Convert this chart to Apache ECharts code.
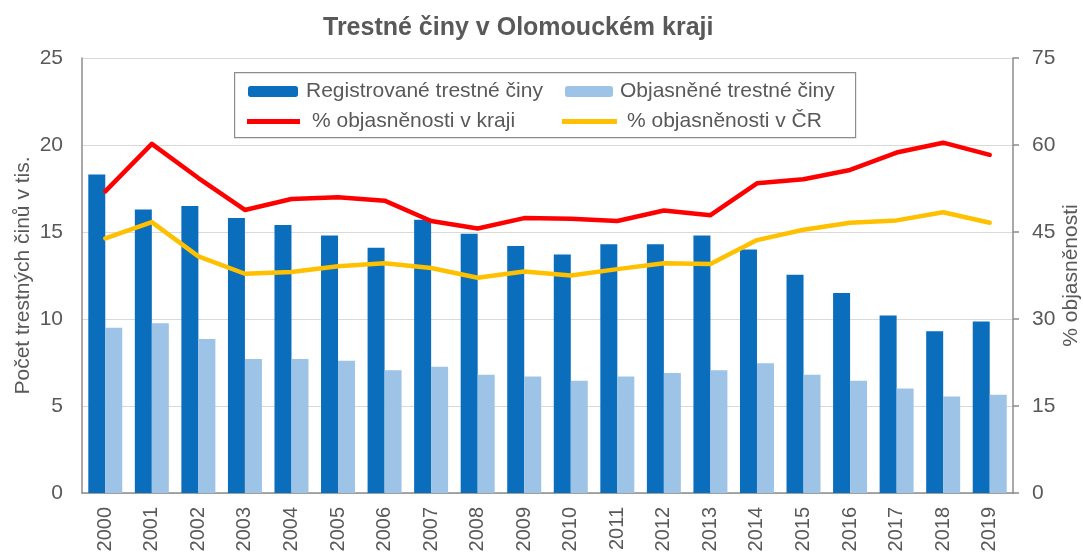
<!DOCTYPE html>
<html>
<head>
<meta charset="utf-8">
<script src="https://cdn.jsdelivr.net/npm/echarts@6/dist/echarts.min.js"></script>
<style>
  html, body { margin: 0; padding: 0; background: #fff; }
  #chart { width: 1083px; height: 554px; }
</style>
</head>
<body>
<div id="chart"></div>
<script>
const years = ['2000', '2001', '2002', '2003', '2004', '2005', '2006', '2007', '2008', '2009',
  '2010', '2011', '2012', '2013', '2014', '2015', '2016', '2017', '2018', '2019'];
// tisíce trestných činů
const registered = [18.3, 16.3, 16.5, 15.8, 15.4, 14.8, 14.1, 15.7, 14.9, 14.2,
  13.7, 14.3, 14.3, 14.8, 14.0, 12.55, 11.5, 10.2, 9.3, 9.85];
const solved = [9.5, 9.75, 8.85, 7.7, 7.7, 7.6, 7.05, 7.25, 6.8, 6.7,
  6.45, 6.7, 6.9, 7.05, 7.45, 6.8, 6.45, 6.0, 5.55, 5.65];
// % objasněnosti
const rateRegion = [52.0, 60.2, 54.3, 48.8, 50.7, 51.0, 50.4, 46.9, 45.6, 47.4,
  47.3, 46.9, 48.7, 47.9, 53.4, 54.1, 55.7, 58.7, 60.4, 58.3];
const rateCR = [43.9, 46.7, 40.8, 37.8, 38.1, 39.1, 39.6, 38.8, 37.1, 38.2,
  37.5, 38.6, 39.6, 39.5, 43.6, 45.4, 46.6, 47.0, 48.4, 46.6];

const leftTicks = { min: 0, max: 25, interval: 5 };
const rightTicks = { min: 0, max: 75, interval: 15 };

const FONT = 'Liberation Sans, Arial, sans-serif';
const TXT = '#595959';
const AXIS = '#8c8c8c';

function legendText(padLeft) {
  return { color: TXT, fontSize: 21, fontFamily: FONT, padding: [0, 0, 0, padLeft] };
}

const chart = echarts.init(document.getElementById('chart'));
chart.setOption({
  backgroundColor: '#fff',
  animation: false,
  title: {
    text: 'Trestné činy v Olomouckém kraji',
    left: 323,
    top: 16,
    padding: 0,
    textStyle: { color: TXT, fontSize: 25, fontWeight: 'bold', fontFamily: FONT }
  },
  graphic: [{
    type: 'rect',
    left: 234, top: 72,
    shape: { width: 621, height: 65 },
    style: { fill: '#fff', stroke: '#8c8c8c', lineWidth: 1.2 },
    z: 5
  }],
  legend: [
    { data: ['Registrované trestné činy'], left: 248, top: 81, padding: 0, itemWidth: 50, itemHeight: 11,
      textStyle: legendText(3), z: 10 },
    { data: ['Objasněné trestné činy'], left: 565, top: 81, padding: 0, itemWidth: 48, itemHeight: 11,
      textStyle: legendText(2), z: 10 },
    { data: ['% objasněnosti v kraji'], left: 247, top: 111, padding: 0, itemWidth: 53, itemHeight: 5,
      icon: 'rect', textStyle: legendText(7), z: 10 },
    { data: ['% objasněnosti v ČR'], left: 562, top: 111, padding: 0, itemWidth: 55, itemHeight: 5,
      icon: 'rect', textStyle: legendText(5), z: 10 }
  ],
  grid: { left: 82, right: 70, top: 58, bottom: 61, containLabel: false, outerBoundsMode: 'none' },
  xAxis: {
    type: 'category',
    data: years,
    axisLine: { lineStyle: { color: AXIS, width: 1.5 } },
    axisTick: { show: false },
    axisLabel: { rotate: 90, color: TXT, fontSize: 20, fontFamily: FONT, margin: 14 }
  },
  yAxis: [
    {
      type: 'value',
      min: leftTicks.min, max: leftTicks.max, interval: leftTicks.interval,
      name: 'Počet trestných činů v tis.',
      nameLocation: 'middle',
      nameRotate: 90,
      nameGap: 48,
      nameMoveOverlap: false,
      nameTextStyle: { color: TXT, fontSize: 21, fontFamily: FONT },
      axisLine: { show: true, lineStyle: { color: AXIS, width: 1.5 } },
      axisTick: { show: false },
      axisLabel: { color: TXT, fontSize: 21, fontFamily: FONT, margin: 19 },
      splitLine: { lineStyle: { color: '#d9d9d9', width: 1.2 } }
    },
    {
      type: 'value',
      min: rightTicks.min, max: rightTicks.max, interval: rightTicks.interval,
      name: '% objasněnosti',
      nameLocation: 'middle',
      nameRotate: 90,
      nameGap: 48,
      nameMoveOverlap: false,
      nameTextStyle: { color: TXT, fontSize: 21, fontFamily: FONT },
      axisLine: { show: true, lineStyle: { color: AXIS, width: 1.5 } },
      axisTick: { show: true, length: 6, lineStyle: { color: AXIS, width: 1.5 } },
      axisLabel: { color: TXT, fontSize: 21, fontFamily: FONT, margin: 19 },
      splitLine: { show: false }
    }
  ],
  series: [
    {
      name: 'Registrované trestné činy',
      type: 'bar',
      data: registered,
      barGap: '0%',
      barCategoryGap: '27%',
      itemStyle: { color: '#0a6ebd' }
    },
    {
      name: 'Objasněné trestné činy',
      type: 'bar',
      data: solved,
      itemStyle: { color: '#9dc3e6' }
    },
    {
      name: '% objasněnosti v kraji',
      type: 'line',
      yAxisIndex: 1,
      data: rateRegion,
      symbol: 'none',
      lineStyle: { color: '#ff0000', width: 4.5, cap: 'round', join: 'round' },
      itemStyle: { color: '#ff0000' }
    },
    {
      name: '% objasněnosti v ČR',
      type: 'line',
      yAxisIndex: 1,
      data: rateCR,
      symbol: 'none',
      lineStyle: { color: '#ffc000', width: 4.5, cap: 'round', join: 'round' },
      itemStyle: { color: '#ffc000' }
    }
  ]
});
</script>
</body>
</html>
